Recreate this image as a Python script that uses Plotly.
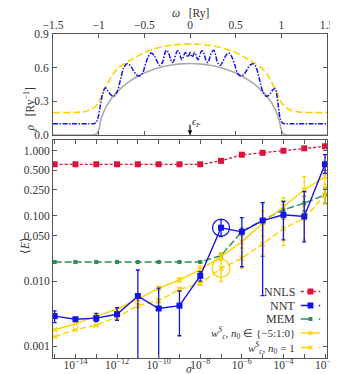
import plotly.graph_objects as go

# ---------------- top panel data (spectral functions) ----------------
omega_gray = [-1.5, -1.1, -1.05, -1.02, -1.0, -0.98, -0.95, -0.9, -0.85, -0.8, -0.7, -0.6, -0.5,
              -0.4, -0.3, -0.2, -0.1, 0.0, 0.1, 0.2, 0.3, 0.4, 0.5, 0.6, 0.7, 0.8, 0.85,
              0.9, 0.95, 0.98, 1.0, 1.02, 1.05, 1.1, 1.5]
rho_gray = [0.0, 0.0, 0.003, 0.012, 0.045, 0.12, 0.195, 0.277, 0.336, 0.382, 0.455, 0.51, 0.552,
            0.584, 0.608, 0.624, 0.634, 0.637, 0.634, 0.624, 0.608, 0.584, 0.552, 0.51, 0.455,
            0.382, 0.336, 0.277, 0.195, 0.12, 0.045, 0.012, 0.003, 0.0, 0.0]

omega_yel = [-1.5, -1.3, -1.2, -1.15, -1.1, -1.05, -1.0, -0.95, -0.9, -0.85, -0.8, -0.7, -0.6,
             -0.5, -0.4, -0.3, -0.2, -0.1, 0.0, 0.1, 0.2, 0.3, 0.4, 0.5, 0.6, 0.7, 0.8, 0.85,
             0.9, 0.95, 1.0, 1.05, 1.1, 1.15, 1.2, 1.3, 1.5]
rho_yel = [0.2, 0.2, 0.204, 0.21, 0.222, 0.245, 0.29, 0.385, 0.46, 0.535, 0.585, 0.645, 0.69,
           0.735, 0.765, 0.787, 0.80, 0.808, 0.81, 0.808, 0.80, 0.787, 0.765, 0.735, 0.69,
           0.645, 0.585, 0.535, 0.46, 0.385, 0.29, 0.245, 0.222, 0.21, 0.204, 0.2, 0.2]

omega_blue = [-1.5, -1.25, -1.1, -1.06, -1.03, -1.005, -0.98, -0.955, -0.93, -0.905, -0.88, -0.855,
              -0.835, -0.80, -0.762, -0.725, -0.69, -0.655, -0.62, -0.585, -0.555, -0.52, -0.49,
              -0.455, -0.425, -0.39, -0.36, -0.33, -0.30, -0.28, -0.26, -0.24, -0.215, -0.195,
              -0.175, -0.155, -0.135, -0.12, -0.105, -0.09, -0.075, -0.06, -0.05, -0.037, -0.025,
              -0.012, 0.0, 0.012, 0.025, 0.037, 0.05, 0.06, 0.075, 0.09, 0.105, 0.12, 0.135, 0.155,
              0.175, 0.195, 0.215, 0.24, 0.26, 0.28, 0.30, 0.33, 0.36, 0.39, 0.425, 0.455, 0.49,
              0.52, 0.555, 0.585, 0.62, 0.655, 0.69, 0.725, 0.762, 0.80, 0.835, 0.855, 0.88, 0.905,
              0.93, 0.95, 0.97, 0.99, 1.015, 1.05, 1.1, 1.25, 1.5]
rho_blue = [0.10, 0.10, 0.10, 0.10, 0.11, 0.16, 0.27, 0.37, 0.42, 0.40, 0.37, 0.35,
            0.345, 0.38, 0.49, 0.60, 0.635, 0.62, 0.575, 0.535, 0.525, 0.55, 0.625,
            0.70, 0.73, 0.705, 0.655, 0.62, 0.65, 0.715, 0.755, 0.74, 0.685, 0.645,
            0.665, 0.72, 0.75, 0.74, 0.70, 0.67, 0.69, 0.725, 0.735, 0.715, 0.695,
            0.71, 0.735, 0.71, 0.695, 0.715, 0.735, 0.725, 0.69, 0.67, 0.70, 0.74, 0.75, 0.72,
            0.665, 0.645, 0.685, 0.74, 0.755, 0.715, 0.65, 0.62, 0.655, 0.705, 0.73, 0.70, 0.625,
            0.55, 0.525, 0.535, 0.575, 0.62, 0.635, 0.60, 0.49, 0.38, 0.345, 0.35, 0.37, 0.40,
            0.415, 0.36, 0.24, 0.14, 0.105, 0.10, 0.10, 0.10, 0.10]

omega_ticks = [-1.5, -1.0, -0.5, 0.0, 0.5, 1.0, 1.5]
omega_ticktext = ["\u22121.5", "\u22121", "\u22120.5", "0", "0.5", "1", "1.5"]
rho_ticks = [0.0, 0.3, 0.6, 0.9]

# ---------------- bottom panel data (errors vs noise) ----------------
sigma = [1e-15, 1e-14, 1e-13, 1e-12, 1e-11, 1e-10, 1e-9, 1e-8, 1e-7, 1e-6, 1e-5, 1e-4, 1e-3, 1e-2]

nnls = [0.62, 0.62, 0.62, 0.62, 0.62, 0.62, 0.62, 0.62, 0.70, 0.87, 0.93, 1.00, 1.09, 1.17]

nnt = [0.0029, 0.0026, 0.0027, 0.0031, 0.0059, 0.0038, 0.0042, 0.012, 0.066, 0.057, 0.085, 0.104, 0.098, 0.62]
nnt_hi = [0.0035, 0.0027, 0.0032, 0.0039, 0.0148, 0.0078, 0.0071, 0.014, 0.088, 0.094, 0.16, 0.166, 0.237, 0.87]
nnt_lo = [0.0023, 0.0025, 0.0024, 0.0025, 0.0003, 0.0003, 0.00145, 0.010, 0.048, 0.0166, 0.006, 0.043, 0.040, 0.45]

mem = [0.0196, 0.0196, 0.0196, 0.0196, 0.0196, 0.0196, 0.0196, 0.0196, 0.0246, 0.0575, 0.087, 0.124, 0.157, 0.21]
mem_hi = [0.0196, 0.0196, 0.0196, 0.0196, 0.0196, 0.0196, 0.0196, 0.0205, 0.027, 0.065, 0.16, 0.17, 0.20, 0.27]
mem_lo = [0.0196, 0.0196, 0.0196, 0.0196, 0.0196, 0.0196, 0.0196, 0.0188, 0.022, 0.050, 0.024, 0.09, 0.12, 0.157]

wc_all = [0.00179, 0.0022, 0.0029, 0.0037, 0.0053, 0.0078, 0.0104, 0.0150, 0.0236, 0.040, 0.078, 0.14, 0.25, 0.40]
wc_all_hi = [0.00179, 0.0022, 0.0029, 0.0039, 0.0056, 0.0084, 0.0112, 0.017, 0.027, 0.05, 0.12, 0.19, 0.40, 0.58]
wc_all_lo = [0.00179, 0.0022, 0.0029, 0.0035, 0.0050, 0.0072, 0.0097, 0.0135, 0.021, 0.032, 0.05, 0.09, 0.11, 0.30]

wc_one = [0.0014, 0.0018, 0.0021, 0.0028, 0.0042, 0.0050, 0.0075, 0.0092, 0.0157, 0.0224, 0.037, 0.064, 0.092, 0.21]
wc_one_hi = [0.0014, 0.0018, 0.0021, 0.0030, 0.0045, 0.0054, 0.0080, 0.0098, 0.022, 0.032, 0.06, 0.10, 0.14, 0.28]
wc_one_lo = [0.0014, 0.0018, 0.0021, 0.0026, 0.0039, 0.0046, 0.0070, 0.0086, 0.0098, 0.0157, 0.025, 0.035, 0.043, 0.15]

sigma_major = [1e-14, 1e-12, 1e-10, 1e-8, 1e-6, 1e-4, 1e-2]
sigma_ticktext = ["10<sup>\u221214</sup>", "10<sup>\u221212</sup>", "10<sup>\u221210</sup>",
                  "10<sup>\u22128</sup>", "10<sup>\u22126</sup>", "10<sup>\u22124</sup>", "10<sup>\u22122</sup>"]
sigma_minor = [1e-15, 1e-13, 1e-11, 1e-9, 1e-7, 1e-5, 1e-3]
err_ticks = [0.001, 0.01, 0.05, 0.1, 0.25, 0.5, 1.0]
err_ticktext = ["0.001", "0.010", "0.050", "0.100", "0.250", "0.500", "1.000"]

legend_labels = ["NNLS", "NNT", "MEM",
                 "<i>w</i><sup><i>S</i></sup><sub><i>c</i></sub>, <i>n</i><sub>0</sub> \u2208 {\u22125:1:0}",
                 "<i>w</i><sup><i>S</i></sup><sub><i>c</i></sub>, <i>n</i><sub>0</sub> = 1"]

RED = "#dc143c"
BLUE = "#1414e6"
GREEN = "#2e8b57"
GOLD = "#ffd200"
GRAY = "#aaaaaa"
FONT = "Liberation Serif"
AX = "#555555"
TXT = "#333333"

W, H = 338, 374
ML, MR, MT, MB = 45, 11, 26, 24
PW, PH = W - ML - MR, H - MT - MB


def py(pix):  # pixel row -> paper y
    return (H - MB - pix) / PH


def px(pix):  # pixel col -> paper x
    return (pix - ML) / PW


fig = go.Figure()

# top panel
fig.add_trace(go.Scatter(x=omega_gray, y=rho_gray, mode="lines", line=dict(color=GRAY, width=1.6, shape="spline"),
                         xaxis="x2", yaxis="y2", showlegend=False))
fig.add_trace(go.Scatter(x=omega_yel, y=rho_yel, mode="lines",
                         line=dict(color=GOLD, width=1.6, dash="7px,3px", shape="spline"),
                         xaxis="x2", yaxis="y2", showlegend=False))
fig.add_trace(go.Scatter(x=omega_blue, y=rho_blue, mode="lines",
                         line=dict(color=BLUE, width=1.5, dash="5px,1.5px,1.5px,1.5px", shape="spline", smoothing=1),
                         xaxis="x2", yaxis="y2", showlegend=False))


def err(vals, hi, lo):
    return dict(type="data", symmetric=False,
                array=[h - v for h, v in zip(hi, vals)],
                arrayminus=[v - l for v, l in zip(vals, lo)],
                thickness=1.3, width=2)


# bottom panel
fig.add_trace(go.Scatter(x=sigma, y=nnls, mode="lines+markers",
                         line=dict(color=RED, width=1.3, dash="3px,2px"),
                         marker=dict(symbol="square", size=6, color=RED), showlegend=False))
fig.add_trace(go.Scatter(x=sigma, y=mem, mode="lines+markers",
                         line=dict(color=GREEN, width=1.4, dash="7px,3px"),
                         marker=dict(symbol="square", size=4, color=GREEN),
                         error_y=dict(err(mem, mem_hi, mem_lo), color=GREEN), showlegend=False))
fig.add_trace(go.Scatter(x=sigma, y=wc_one, mode="lines+markers",
                         line=dict(color=GOLD, width=1.4, dash="6px,3px"),
                         marker=dict(symbol="x-thin", size=5, color=GOLD, line=dict(color=GOLD, width=1.2)),
                         error_y=dict(err(wc_one, wc_one_hi, wc_one_lo), color=GOLD), showlegend=False))
fig.add_trace(go.Scatter(x=sigma, y=wc_all, mode="lines+markers",
                         line=dict(color=GOLD, width=1.4),
                         marker=dict(symbol="x-thin", size=5, color=GOLD, line=dict(color=GOLD, width=1.2)),
                         error_y=dict(err(wc_all, wc_all_hi, wc_all_lo), color=GOLD), showlegend=False))
fig.add_trace(go.Scatter(x=sigma, y=nnt, mode="lines+markers",
                         line=dict(color=BLUE, width=1.4),
                         marker=dict(symbol="square", size=6, color=BLUE),
                         error_y=dict(err(nnt, nnt_hi, nnt_lo), color=BLUE), showlegend=False))
# highlighted points
fig.add_trace(go.Scatter(x=[sigma[8]], y=[nnt[8]], mode="markers",
                         marker=dict(symbol="circle-open", size=17, color=BLUE, line=dict(width=1.3)),
                         showlegend=False))
fig.add_trace(go.Scatter(x=[sigma[8]], y=[wc_one[8]], mode="markers",
                         marker=dict(symbol="circle-open", size=18, color=GOLD, line=dict(width=1.3)),
                         showlegend=False))

tickfont = dict(family=FONT, size=11.5, color=TXT)
common = dict(showline=True, linecolor=AX, linewidth=1, mirror="ticks", ticks="inside", ticklen=4,
              tickcolor=AX, showgrid=False, zeroline=False, tickfont=tickfont)

fig.update_layout(
    width=W, height=H, margin=dict(l=ML, r=MR, t=MT, b=MB),
    paper_bgcolor="white", plot_bgcolor="white", showlegend=False,
    xaxis=dict(common, type="log", range=[-15.08, -1.905], domain=[0, 1], anchor="y",
               tickvals=sigma_major, ticktext=sigma_ticktext, ticklabelstandoff=-4,
               minor=dict(tickvals=sigma_minor, ticks="inside", ticklen=4, tickcolor=AX)),
    yaxis=dict(common, type="log", range=[-3.18, 0.165], domain=[0, py(132)], anchor="x",
               tickvals=err_ticks, ticktext=err_ticktext),
    xaxis2=dict(common, range=[-1.5, 1.5], domain=[0, 1], anchor="y2", side="top",
                tickvals=omega_ticks, ticktext=omega_ticktext, ticklabelstandoff=-1),
    yaxis2=dict(common, range=[0, 0.9], domain=[py(127), 1], anchor="x2",
                tickvals=rho_ticks, tickformat=".1f", ticklabelstandoff=1),
)

annots = [
    dict(text="<i>\u03c9</i>   [Ry]", x=0.5, y=py(6), xref="paper", yref="paper", xanchor="center",
         yanchor="middle", showarrow=False, font=dict(family=FONT, size=11.5, color=TXT)),
    dict(text="<i>\u03c1</i>   [Ry<sup>\u22121</sup>]", x=px(11), y=py(77), xref="paper", yref="paper",
         textangle=-90, showarrow=False, font=dict(family=FONT, size=11.5, color=TXT)),
    dict(text="\u27e8<i>E</i>\u27e9", x=px(8), y=py(238), xref="paper", yref="paper",
         textangle=-90, showarrow=False, font=dict(family=FONT, size=11.5, color=TXT)),
    dict(text="<i>\u03c3</i>", x=px(185), y=py(369), xref="paper", yref="paper",
         showarrow=False, font=dict(family=FONT, size=11.5, color=TXT)),
    dict(x=0, y=0, ax=0, ay=0.105, xref="x2", yref="y2", axref="x2", ayref="y2", text="",
         showarrow=True, arrowhead=2, arrowsize=0.8, arrowwidth=1.2, arrowcolor="#111"),
    dict(text="<i>\u03f5<sub>F</sub></i>", x=0.005, y=0.11, xref="x2", yref="y2", xanchor="left",
         yanchor="middle", showarrow=False, font=dict(family=FONT, size=10, color=TXT)),
]

# manual legend (text on the left, key on the right)
leg_rows = [283.5, 297.5, 311, 325, 339.5]
leg_sizes = [12, 12, 12, 11, 11]
leg_colors = [RED, BLUE, GREEN, GOLD, GOLD]
leg_dash = ["dot", "dash", "dash", "solid", "dash"]
leg_marker = ["sq", "sq", "sqs", "x", "x"]
shapes = []
x0, x1 = px(300), px(320)
for lab, row, fs, col, dsh, mk in zip(legend_labels, leg_rows, leg_sizes, leg_colors, leg_dash, leg_marker):
    annots.append(dict(text=lab, x=px(296), y=py(row), xref="paper", yref="paper", xanchor="right",
                       yanchor="middle", showarrow=False, font=dict(family=FONT, size=fs, color=TXT)))
    shapes.append(dict(type="line", xref="paper", yref="paper", x0=x0, x1=x1, y0=py(row), y1=py(row),
                       line=dict(color=col, width=1.4, dash=dsh)))
    if mk.startswith("sq"):
        s = 3 if mk == "sq" else 2
        shapes.append(dict(type="rect", xref="paper", yref="paper", x0=px(310 - s), x1=px(310 + s),
                           y0=py(row + s), y1=py(row - s), fillcolor=col, line=dict(width=0)))
    else:
        shapes.append(dict(type="path", xref="paper", yref="paper",
                           path=f"M {px(308)} {py(row-2)} L {px(312)} {py(row+2)} M {px(308)} {py(row+2)} L {px(312)} {py(row-2)}",
                           line=dict(color=col, width=1.2)))

fig.update_layout(annotations=annots, shapes=shapes)
fig.write_html("out.html")
